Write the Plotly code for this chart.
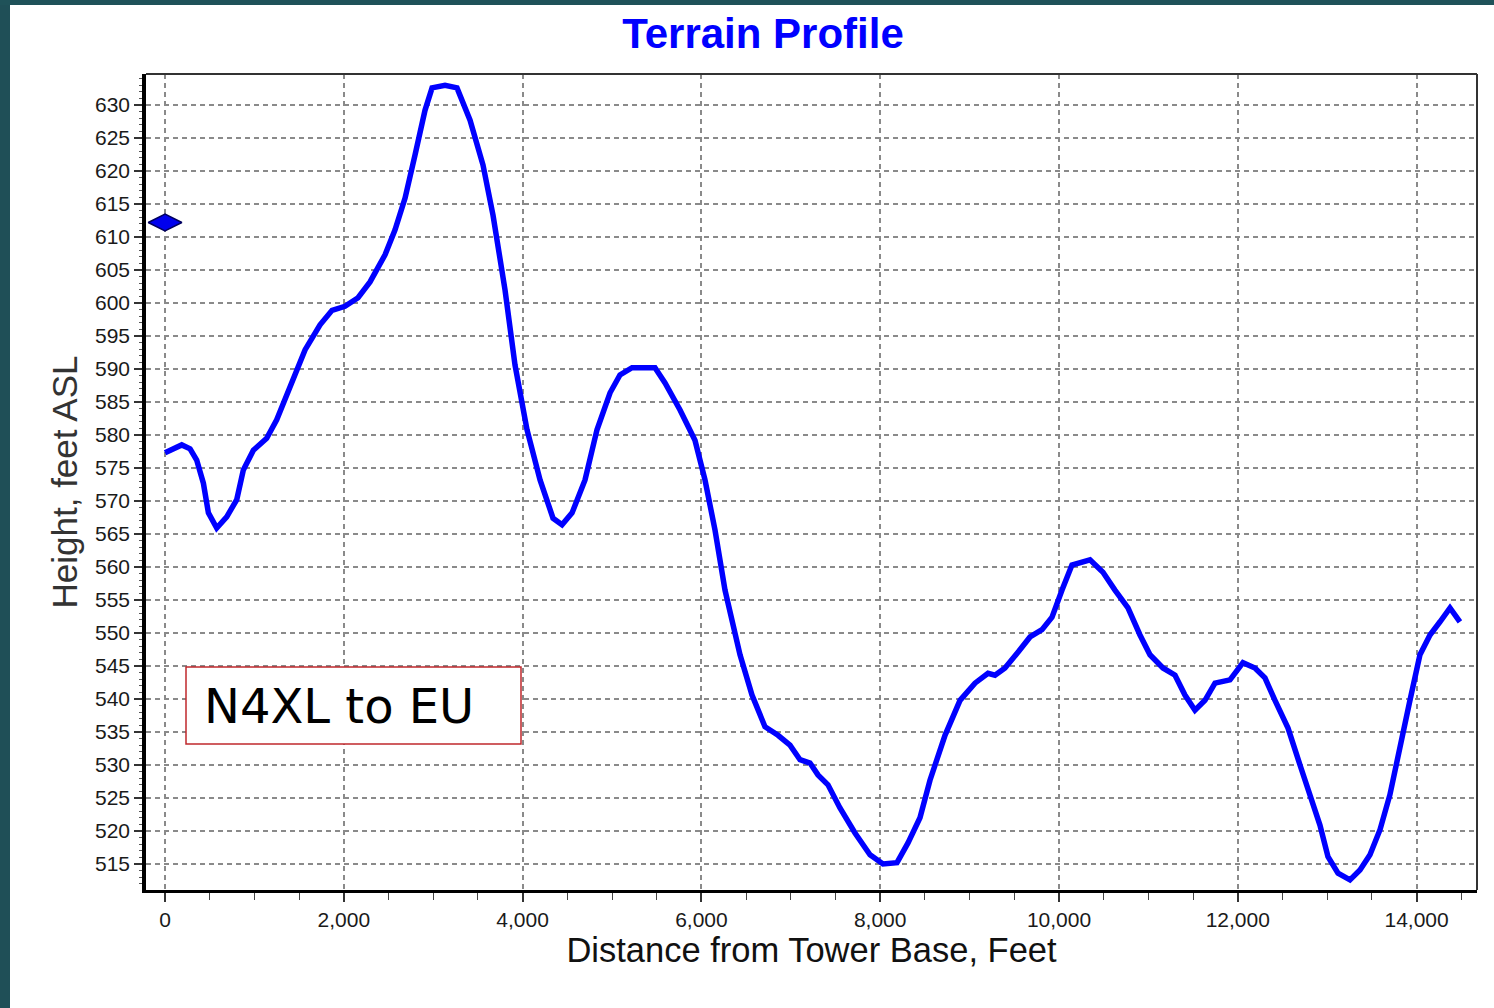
import plotly.graph_objects as go

# Terrain profile data (distance in feet, height in feet ASL)
distance_ft = [0, 187, 280, 354, 429, 485, 578, 690, 802, 876, 988, 1137, 1249, 1342,
               1398, 1566, 1734, 1868, 2013, 2159, 2293, 2461, 2573, 2685, 2796, 2908,
               2987, 3132, 3266, 3412, 3557, 3669, 3803, 3915, 4049, 4195, 4340, 4441,
               4553, 4698, 4832, 4978, 5089, 5224, 5481, 5593, 5761, 5928, 6040, 6152,
               6264, 6432, 6566, 6711, 6857, 6991, 7103, 7215, 7304, 7416, 7550, 7718,
               7886, 8031, 8188, 8311, 8445, 8557, 8725, 8893, 9060, 9206, 9284, 9396,
               9541, 9676, 9810, 9922, 10034, 10145, 10347, 10492, 10626, 10772, 10906,
               11018, 11163, 11298, 11409, 11521, 11633, 11745, 11913, 12058, 12192,
               12304, 12416, 12562, 12696, 12830, 12919, 13009, 13121, 13255, 13367,
               13479, 13591, 13702, 13814, 13926, 14038, 14150, 14262, 14374, 14485]
height_ft = [577.3, 578.5, 577.9, 576.2, 572.7, 568.2, 565.9, 567.6, 570.2, 574.7, 577.7,
             579.5, 582.3, 585.3, 587.6, 592.9, 596.7, 598.9, 599.5, 600.8, 603.2, 607.3,
             611.1, 615.9, 622.4, 629.2, 632.6, 633.0, 632.6, 627.7, 620.9, 613.3, 602.0,
             590.6, 580.8, 573.2, 567.4, 566.4, 568.2, 573.2, 580.8, 586.4, 589.1, 590.2,
             590.2, 587.9, 583.8, 579.2, 573.2, 565.6, 556.5, 546.7, 540.6, 535.8, 534.5,
             533.0, 530.8, 530.3, 528.5, 527.0, 523.5, 519.7, 516.4, 515.0, 515.2, 518.2,
             522.0, 527.7, 534.5, 539.8, 542.4, 543.9, 543.6, 544.7, 547.1, 549.4, 550.5,
             552.4, 556.5, 560.3, 561.1, 559.2, 556.5, 553.8, 549.7, 546.7, 544.7, 543.6,
             540.6, 538.3, 539.8, 542.4, 542.9, 545.5, 544.7, 543.2, 539.8, 535.6, 530.0,
             524.7, 520.9, 516.1, 513.6, 512.6, 514.1, 516.4, 520.2, 525.5, 533.0, 539.8,
             546.7, 549.7, 551.7, 553.8, 551.7]

tower_distance = [0]
tower_height = [612.2]

title_text = "Terrain Profile"
x_title = "Distance from Tower Base, Feet"
y_title = "Height, feet ASL"
label_text = "N4XL to EU"

# Layout geometry (pixels)
W, H = 1494, 1008
L, R, T, B = 146, 17, 74, 118
PW, PH = W - L - R, H - T - B

def px(x):
    return (x - L) / PW

def py(y):
    return (H - B - y) / PH

fig = go.Figure()
fig.add_trace(go.Scatter(
    x=distance_ft, y=height_ft, mode="lines",
    line=dict(color="#0000FF", width=5.5),
    showlegend=False, hoverinfo="x+y"))
fig.add_trace(go.Scatter(
    x=tower_distance, y=tower_height, mode="markers",
    marker=dict(symbol="diamond-wide", size=24, color="#0000EE",
                line=dict(color="#000060", width=1.5)),
    showlegend=False, cliponaxis=False))

sans = "Liberation Sans, Arial, sans-serif"
axis_font = dict(family=sans, size=21, color="#1a1a1a")
fig.update_layout(
    width=W, height=H,
    margin=dict(l=L, r=R, t=T, b=B, autoexpand=False),
    paper_bgcolor="white", plot_bgcolor="white",
    title=dict(text="<b>%s</b>" % title_text, x=763 / W, xanchor="center",
               y=1 - 33 / H, yanchor="middle", yref="container",
               font=dict(family=sans, size=42, color="#0000FF")),
    xaxis=dict(range=[-213, 14676], tickmode="linear", tick0=0, dtick=2000,
               tickformat=",d", showgrid=True, gridcolor="#8a8a8a", gridwidth=1.5,
               griddash="5px,4px", zeroline=False, showline=True, linecolor="black",
               linewidth=3, ticks="outside", ticklen=9, tickwidth=1.5, tickcolor="#333",
               minor=dict(dtick=500, tick0=0, ticks="outside", ticklen=7, tickwidth=1.2,
                          tickcolor="#444", showgrid=False),
               tickfont=axis_font,
               title=dict(text=x_title, standoff=6,
                          font=dict(family=sans, size=34.5, color="#111"))),
    yaxis=dict(range=[511.06, 634.7], tickmode="linear", tick0=515, dtick=5,
               showgrid=True, gridcolor="#8a8a8a", gridwidth=1.5, griddash="5px,4px",
               zeroline=False, showline=True, linecolor="black", linewidth=3.5,
               ticks="outside", ticklen=8, tickwidth=1.5, tickcolor="#333",
               minor=dict(dtick=1, tick0=515, ticks="outside", ticklen=3, tickwidth=1,
                          tickcolor="#555", showgrid=False),
               tickfont=axis_font,
               title=dict(text=y_title, standoff=8,
                          font=dict(family=sans, size=35, color="#333"))),
)

shapes = [
    # top and right frame lines of the plot area
    dict(type="line", xref="paper", yref="paper", x0=0, x1=1, y0=1, y1=1,
         line=dict(color="#333", width=2)),
    dict(type="line", xref="paper", yref="paper", x0=1, x1=1, y0=0, y1=1,
         line=dict(color="#333", width=2)),
    # label box
    dict(type="rect", xref="paper", yref="paper", x0=px(186), x1=px(521),
         y0=py(744), y1=py(667), line=dict(color="#C0282D", width=1.5), fillcolor="white"),
    # slide frame strips
    dict(type="rect", xref="paper", yref="paper", x0=px(0), x1=px(10), y0=py(H), y1=py(0),
         line=dict(width=0), fillcolor="#1F4F57"),
    dict(type="rect", xref="paper", yref="paper", x0=px(0), x1=px(W), y0=py(5), y1=py(0),
         line=dict(width=0), fillcolor="#1F5259"),
]
fig.update_layout(shapes=shapes)

fig.add_annotation(text=label_text, xref="paper", yref="paper", x=px(202), y=py(706),
                   xanchor="left", yanchor="middle", showarrow=False,
                   font=dict(family="DejaVu Sans, Verdana, sans-serif", size=48, color="black"))

fig.write_html("out.html", config={"displayModeBar": False},
               post_script="document.body.style.margin='0';")
